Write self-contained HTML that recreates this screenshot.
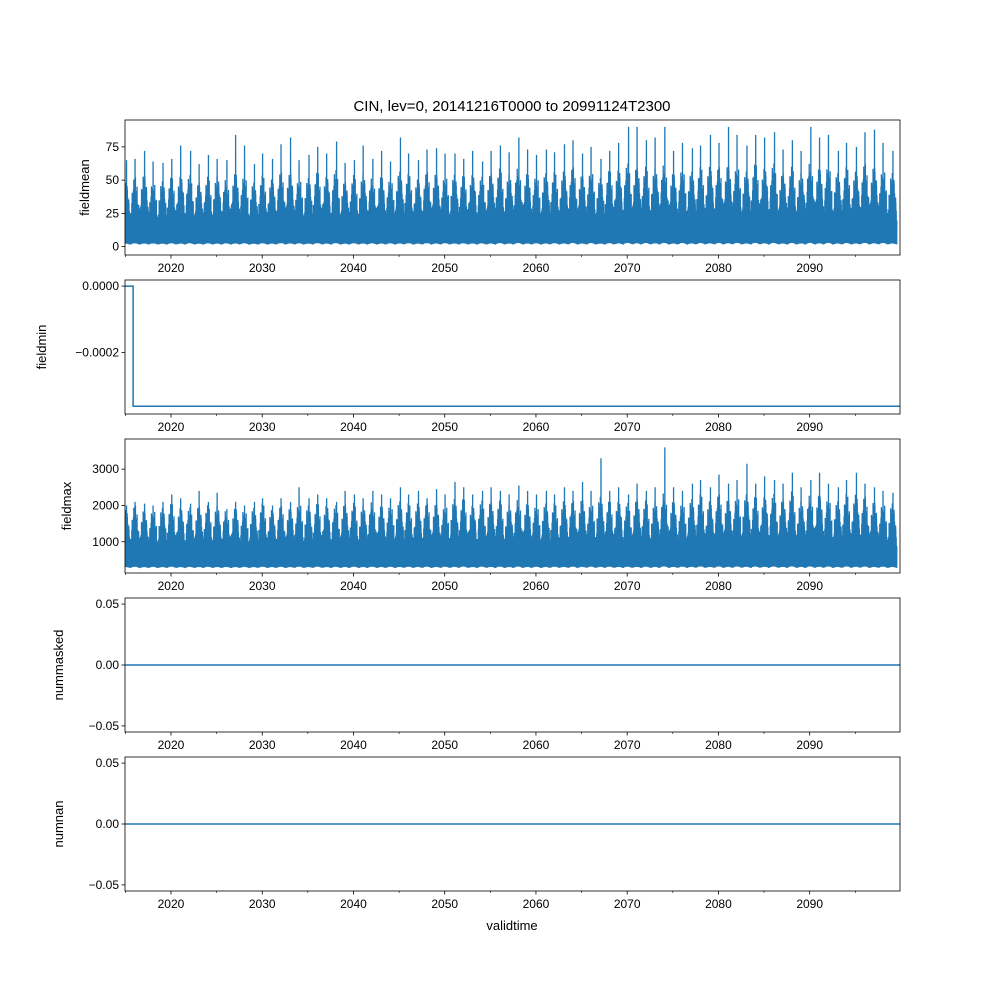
<!DOCTYPE html>
<html><head><meta charset="utf-8"><style>
body{margin:0;background:#fff}
svg{display:block;font-family:"Liberation Sans","DejaVu Sans",sans-serif}
</style></head><body>
<svg id="fig" width="1000" height="1000" viewBox="0 0 1000 1000">
<rect width="1000" height="1000" fill="#fff"/>
<text x="512" y="111" font-size="15" text-anchor="middle">CIN, lev=0, 20141216T0000 to 20991124T2300</text>
<text x="512" y="930" font-size="13" text-anchor="middle">validtime</text>
</svg>
<script>
const startYear = 2014.96, endYear = 2099.9;
const xTicks = [2020,2030,2040,2050,2060,2070,2080,2090];
const minorTicks = [2015,2025,2035,2045,2055,2065,2075,2085,2095];
// annual peak of fieldmean, 2015..2099
const meanPeaks = [65,66,72,64,63,66,76,72,62,69,66,65,84,76,62,70,66,77,82,65,69,75,70,79,63,65,76,66,72,64,82,70,65,73,74,70,70,66,72,64,72,76,71,82,73,69,73,71,77,80,70,75,66,72,78,90,90,80,82,90,72,78,74,76,84,78,90,84,76,84,82,86,73,80,72,90,82,84,72,78,75,86,88,78,72];
// annual typical summer high of fieldmean
const meanBody = [40,42,45,40,41,42,44,43,40,42,44,41,46,44,40,43,42,45,46,42,43,45,44,46,41,43,45,42,44,42,47,44,42,45,46,44,45,43,45,42,46,47,45,48,46,44,46,45,47,48,45,47,43,46,48,50,50,48,49,50,46,48,47,48,50,48,51,50,47,50,49,50,46,48,46,51,49,50,46,48,47,50,50,48,46];
// annual peak of fieldmax
const maxPeaks = [2000,2100,2050,2000,2100,2300,2200,2050,2400,2100,2350,1900,2100,2000,2100,2200,2000,2200,2100,2500,2200,2300,2200,2100,2400,2300,2200,2400,2300,2200,2500,2300,2400,2200,2450,2300,2650,2500,2300,2400,2500,2400,2300,2550,2400,2300,2400,2300,2500,2400,2650,2400,3300,2400,2500,2300,2600,2400,2500,3600,2500,2400,2600,2700,2500,2850,2600,2700,3150,2600,2800,2700,2600,2900,2500,2700,2900,2600,2500,2700,2900,2600,2500,2400,2350];
const maxBody = [1600,1650,1600,1600,1650,1700,1650,1600,1700,1650,1700,1550,1650,1600,1650,1700,1600,1650,1650,1750,1700,1700,1700,1650,1750,1700,1700,1750,1700,1700,1800,1700,1750,1700,1750,1700,1850,1800,1700,1750,1800,1750,1700,1800,1750,1700,1750,1700,1800,1750,1850,1750,1900,1750,1800,1700,1850,1750,1800,1950,1800,1750,1850,1900,1800,1900,1850,1900,1950,1850,1900,1900,1850,1950,1800,1900,1950,1850,1800,1900,1950,1850,1800,1750,1750];
const meanTicks=[0,25,50,75], minTicks=[0,-0.0002], maxTicks=[1000,2000,3000], zeroTicks=[-0.05,0,0.05];
const minLevel=-0.000362, minStepYear=2015.85;

const L=125,R=900;
const svg=document.getElementById('fig');
const NS='http://www.w3.org/2000/svg';
function el(t,a,p){const e=document.createElementNS(NS,t);for(const k in a)e.setAttribute(k,a[k]);(p||svg).appendChild(e);return e;}
const X=v=>L+(v-startYear)/(endYear-startYear)*(R-L);
const panels=[
 {name:'fieldmean',top:120,bot:255,lo:-6.3,hi:95.2,ticks:meanTicks,fmt:v=>String(v)},
 {name:'fieldmin',top:280,bot:414,lo:-0.0003855,hi:0.0000183,ticks:minTicks,fmt:v=>v===0?'0.0000':'\u22120.0002'},
 {name:'fieldmax',top:439,bot:573,lo:140,hi:3830,ticks:maxTicks,fmt:v=>String(v)},
 {name:'nummasked',top:598,bot:732,lo:-0.055,hi:0.055,ticks:zeroTicks,fmt:v=>v===0?'0.00':(v<0?'\u22120.05':'0.05')},
 {name:'numnan',top:757,bot:891,lo:-0.055,hi:0.055,ticks:zeroTicks,fmt:v=>v===0?'0.00':(v<0?'\u22120.05':'0.05')}
];
const C='#1f77b4';
const jit=[1,0.7,0.9,0.55,1.1,0.8,0.65,1.2,0.75,0.95,0.6,1.05,0.85,0.7,1.15,0.5];
panels.forEach((p,pi)=>{
  const Y=v=>p.bot-(v-p.lo)/(p.hi-p.lo)*(p.bot-p.top);
  const g=el('g',{});
  const cp=el('clipPath',{id:'c'+pi},g);el('rect',{x:L,y:p.top,width:R-L,height:p.bot-p.top},cp);
  const dg=el('g',{'clip-path':'url(#c'+pi+')'},g);
  if(pi===0||pi===2){
    const peaks=pi===0?meanPeaks:maxPeaks, body=pi===0?meanBody:maxBody, low=pi===0?1:260;
    let d='';const n=90;
    for(let i=0;i<peaks.length;i++){
      const y0=2015+i;
      for(let k=0;k<=n;k++){
        const f=k/n, s=Math.sin(Math.PI*f);
        let v;
        if(k%2) v=low+(body[i]-low)*0.02*(1+2*s)*jit[(k+i)%16];
        else if(k===Math.round(n*(0.4+0.2*jit[i%16]/1.2)/2)*2) v=peaks[i];
        else v=low+(body[i]-low)*(0.45+0.6*s)*jit[(k*3+i)%16];
        d+=(d?'L':'M')+X(y0+f-0.45).toFixed(2)+','+Y(v).toFixed(2);
      }
    }
    const path=el('path',{d:d,fill:'none',stroke:C,'stroke-width':1.3},dg);
    
    
  } else if(pi===1){
    const d='M'+L+','+Y(0)+'L'+X(minStepYear)+','+Y(0)+'L'+X(minStepYear)+','+Y(minLevel)+'L'+R+','+Y(minLevel);
    el('path',{d:d,fill:'none',stroke:C,'stroke-width':1.5,},dg);
  } else {
    el('path',{d:'M'+L+','+Y(0)+'L'+R+','+Y(0),fill:'none',stroke:C,'stroke-width':1.5,},dg);
  }
  el('rect',{x:L,y:p.top,width:R-L,height:p.bot-p.top,fill:'none',stroke:'#000','stroke-width':0.8,},g);
  p.ticks.forEach(t=>{const y=Y(t);el('line',{x1:L-3.5,x2:L,y1:y,y2:y,stroke:'#000','stroke-width':0.8},g);
    const tx=el('text',{x:L-6,y:y+4,'font-size':12,'text-anchor':'end'},g);tx.textContent=p.fmt(t);
    });
  xTicks.forEach(t=>{const x=X(t);el('line',{x1:x,x2:x,y1:p.bot,y2:p.bot+3.5,stroke:'#000','stroke-width':0.8},g);
    const tx=el('text',{x:x,y:p.bot+17,'font-size':12,'text-anchor':'middle'},g);tx.textContent=t;
    });
  minorTicks.forEach(t=>{const x=X(t);el('line',{x1:x,x2:x,y1:p.bot,y2:p.bot+2,stroke:'#000','stroke-width':0.6},g);});
  const lx=pi===0?89:(pi===1?46:(pi===2?71:63));
  const yl=el('text',{x:lx,y:(p.top+p.bot)/2,'font-size':13,'text-anchor':'middle',transform:'rotate(-90 '+lx+' '+(p.top+p.bot)/2+')'},g);
  yl.textContent=p.name;
});
</script>
</body></html>
